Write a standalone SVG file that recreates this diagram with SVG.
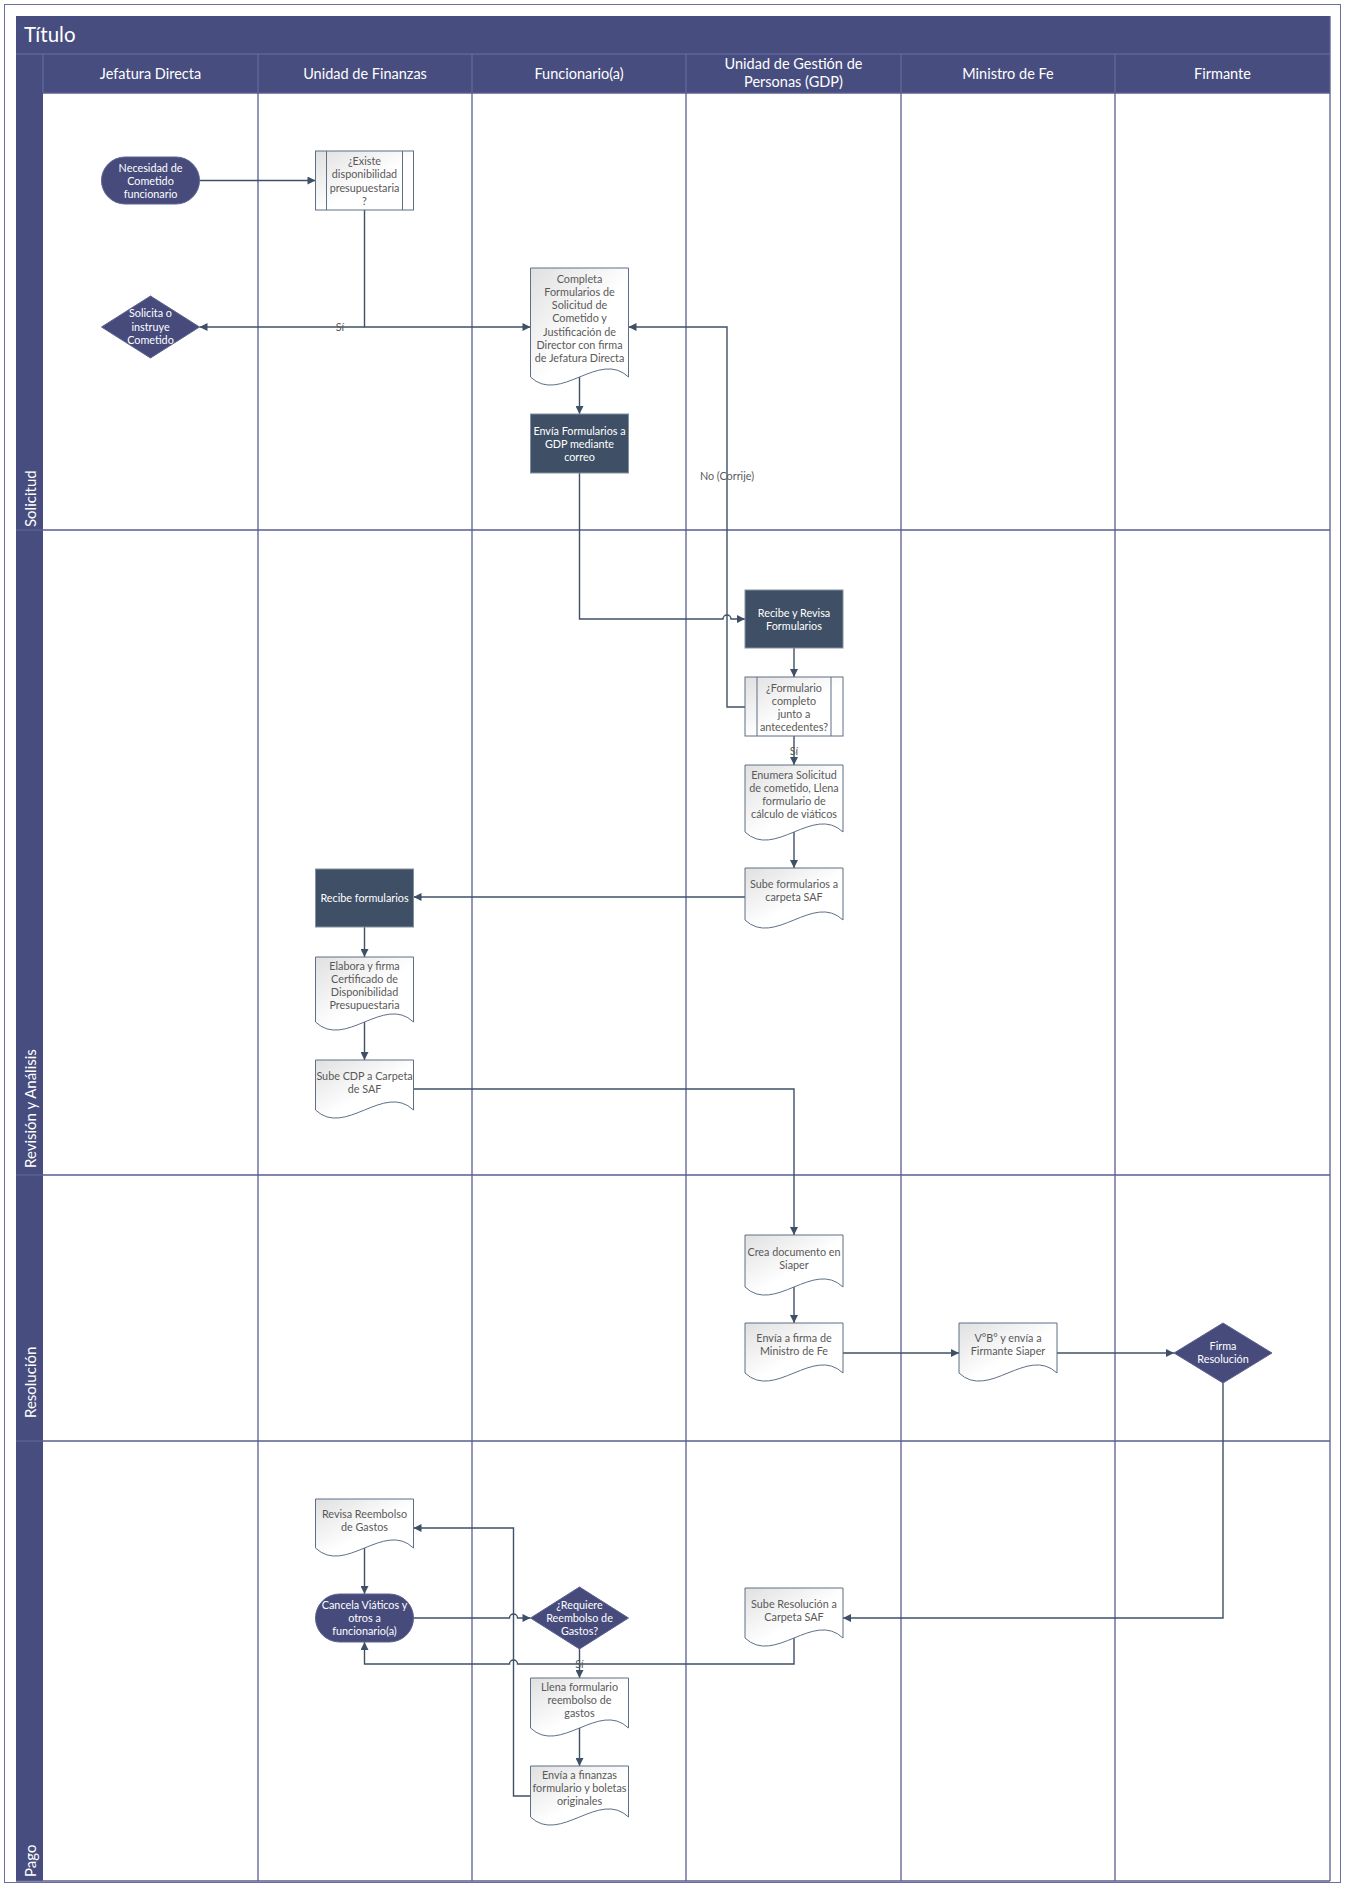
<svg xmlns="http://www.w3.org/2000/svg" width="1346" height="1887" viewBox="0 0 1346 1887">
<defs>
<style>
.lane{stroke:#5A5E90;stroke-width:1.3;fill:none}
.hsep{stroke:#6A70A4;stroke-width:1;fill:none}
.hdr{fill:#474D7E}
.hl{fill:#fff;font-family:Lato,"Liberation Sans",sans-serif;font-size:14.5px;text-anchor:middle}
.ll{fill:#fff;font-family:Lato,"Liberation Sans",sans-serif;font-size:15px}
.doc{fill:url(#g);stroke:#5F6F86;stroke-width:1}
.dark{fill:#3F5066;stroke:#8190A2;stroke-width:1}
.term{fill:#464B7C;stroke:#5E6290;stroke-width:1}
.sub{stroke:#5F6F86;stroke-width:1}
.t{font-family:Lato,"Liberation Sans",sans-serif;font-size:10.8px;fill:#595959;text-anchor:middle}
.tw{font-family:Lato,"Liberation Sans",sans-serif;font-size:10.8px;fill:#ffffff;text-anchor:middle}
.c{fill:none;stroke:#3F5066;stroke-width:1.4;marker-end:url(#a)}
</style>
<linearGradient id="g" x1="0" y1="0" x2="1" y2="1">
<stop offset="0" stop-color="#E0E0E0"/>
<stop offset="0.55" stop-color="#FFFFFF"/>
<stop offset="1" stop-color="#FFFFFF"/>
</linearGradient>
<marker id="a" viewBox="0 0 10 10" refX="10" refY="5" markerWidth="9" markerHeight="8" markerUnits="userSpaceOnUse" orient="auto">
<path d="M0,0 L10,5 L0,10 Z" fill="#3F5066"/>
</marker>
</defs>

<g id="frame">
<rect x="4.5" y="4.5" width="1336" height="1878" fill="#ffffff" stroke="#6B6F9A" stroke-width="1"/>
<rect x="16" y="16" width="1314" height="38" class="hdr"/>
<text x="24" y="42" fill="#fff" font-family="Lato,'Liberation Sans',sans-serif" font-size="20.5px">Título</text>
<rect x="16" y="54" width="1314" height="39" class="hdr"/>
<line x1="16" y1="54" x2="1330" y2="54" class="hsep"/>
<rect x="16" y="93" width="27" height="1788" class="hdr"/>
<line x1="43" y1="54" x2="43" y2="93" class="hsep"/>
<line x1="258" y1="54" x2="258" y2="93" class="hsep"/>
<line x1="472" y1="54" x2="472" y2="93" class="hsep"/>
<line x1="686" y1="54" x2="686" y2="93" class="hsep"/>
<line x1="901" y1="54" x2="901" y2="93" class="hsep"/>
<line x1="1115" y1="54" x2="1115" y2="93" class="hsep"/>
<text x="150.5" y="78.5" class="hl">Jefatura Directa</text>
<text x="365" y="78.5" class="hl">Unidad de Finanzas</text>
<text x="579" y="78.5" class="hl">Funcionario(a)</text>
<text x="793.5" y="68.5" class="hl">Unidad de Gestión de</text>
<text x="793.5" y="86.5" class="hl">Personas (GDP)</text>
<text x="1008" y="78.5" class="hl">Ministro de Fe</text>
<text x="1222.5" y="78.5" class="hl">Firmante</text>
<line x1="258" y1="93" x2="258" y2="1881" class="lane"/>
<line x1="472" y1="93" x2="472" y2="1881" class="lane"/>
<line x1="686" y1="93" x2="686" y2="1881" class="lane"/>
<line x1="901" y1="93" x2="901" y2="1881" class="lane"/>
<line x1="1115" y1="93" x2="1115" y2="1881" class="lane"/>
<line x1="1330" y1="16" x2="1330" y2="1881" class="lane"/>
<line x1="43" y1="93" x2="1330" y2="93" class="lane"/>
<line x1="16" y1="530" x2="1330" y2="530" class="lane"/>
<line x1="16" y1="1175" x2="1330" y2="1175" class="lane"/>
<line x1="16" y1="1441" x2="1330" y2="1441" class="lane"/>
<line x1="16" y1="1881" x2="1330" y2="1881" class="lane"/>
<text class="ll" transform="translate(35.5,527) rotate(-90)">Solicitud</text>
<text class="ll" transform="translate(35.5,1168) rotate(-90)">Revisión y Análisis</text>
<text class="ll" transform="translate(35.5,1418) rotate(-90)">Resolución</text>
<text class="ll" transform="translate(35.5,1877) rotate(-90)">Pago</text>
</g>

<g id="connectors">
<path class="c" d="M199.5,180.5 H315.5"/>
<path class="c" d="M364.5,210 V327 H530.5"/>
<path class="c" d="M364.5,327 H199.5"/>
<path class="c" d="M579.5,377 V414"/>
<path class="c" d="M579.5,473 V619 H723 A4,4 0 0 1 731,619 H745"/>
<path class="c" d="M745,707 H727 V327 H628.5"/>
<path class="c" d="M794,648 V677"/>
<path class="c" d="M794,736 V765"/>
<path class="c" d="M794,832 V868"/>
<path class="c" d="M745,897 H413.5"/>
<path class="c" d="M364.5,927 V957"/>
<path class="c" d="M364.5,1022 V1060"/>
<path class="c" d="M413.5,1089 H794 V1235"/>
<path class="c" d="M794,1287 V1323"/>
<path class="c" d="M843,1353 H959"/>
<path class="c" d="M1057,1353 H1174"/>
<path class="c" d="M1223,1383 V1618 H843"/>
<path class="c" d="M794,1638 V1664 H517.5 A4,4 0 0 0 509.5,1664 H364.5 V1642"/>
<path class="c" d="M364.5,1548 V1594"/>
<path class="c" d="M413.5,1618 H509.5 A4,4 0 0 1 517.5,1618 H530.5"/>
<path class="c" d="M579.5,1649 V1678"/>
<path class="c" d="M579.5,1728 V1766"/>
<path class="c" d="M530.5,1796 H513.5 V1528 H413.5"/>
<text x="340" y="331" class="t">Sí</text>
<text x="727" y="480" class="t">No (Corrije)</text>
<text x="794" y="755" class="t">Sí</text>
<text x="579.5" y="1668" class="t">Sí</text>
</g>

<g id="n-necesidad">
<rect x="101.5" y="157" width="98" height="47" rx="23.5" class="term"/>
<text class="tw"><tspan x="150.5" y="171.5">Necesidad de</tspan><tspan x="150.5" y="184.5">Cometido</tspan><tspan x="150.5" y="197.5">funcionario</tspan></text>
</g>
<g id="n-existe">
<rect x="315.5" y="151" width="98" height="59" class="sub" fill="url(#g)"/>
<line x1="326.5" y1="151" x2="326.5" y2="210" class="sub"/>
<line x1="402.5" y1="151" x2="402.5" y2="210" class="sub"/>
<text class="t"><tspan x="364.5" y="164.5">¿Existe</tspan><tspan x="364.5" y="177.5">disponibilidad</tspan><tspan x="364.5" y="191.5">presupuestaria</tspan><tspan x="364.5" y="204.5">?</tspan></text>
</g>
<g id="n-solicita">
<polygon points="101.5,327 150.5,296 199.5,327 150.5,358" class="term"/>
<text class="tw"><tspan x="150.5" y="316.5">Solicita o</tspan><tspan x="150.5" y="330.5">instruye</tspan><tspan x="150.5" y="343.5">Cometido</tspan></text>
</g>
<g id="n-completa">
<path d="M530.5,268 H628.5 V377 C599.1,349 559.9,405 530.5,377 Z" class="doc"/>
<text class="t"><tspan x="579.5" y="282.5">Completa</tspan><tspan x="579.5" y="295.5">Formularios de</tspan><tspan x="579.5" y="308.5">Solicitud de</tspan><tspan x="579.5" y="321.5">Cometido y</tspan><tspan x="579.5" y="335.5">Justificación de</tspan><tspan x="579.5" y="348.5">Director con firma</tspan><tspan x="579.5" y="361.5">de Jefatura Directa</tspan></text>
</g>
<g id="n-envia-gdp">
<rect x="530.5" y="414" width="98" height="59" class="dark"/>
<text class="tw"><tspan x="579.5" y="434.5">Envía Formularios a</tspan><tspan x="579.5" y="447.5">GDP mediante</tspan><tspan x="579.5" y="460.5">correo</tspan></text>
</g>
<g id="n-recibe-revisa">
<rect x="745" y="590" width="98" height="58" class="dark"/>
<text class="tw"><tspan x="794" y="616.5">Recibe y Revisa</tspan><tspan x="794" y="629.5">Formularios</tspan></text>
</g>
<g id="n-formulario-completo">
<rect x="745" y="677" width="98" height="59" class="sub" fill="url(#g)"/>
<line x1="757" y1="677" x2="757" y2="736" class="sub"/>
<line x1="831" y1="677" x2="831" y2="736" class="sub"/>
<text class="t"><tspan x="794" y="691.5">¿Formulario</tspan><tspan x="794" y="704.5">completo</tspan><tspan x="794" y="717.5">junto a</tspan><tspan x="794" y="730.5">antecedentes?</tspan></text>
</g>
<g id="n-enumera">
<path d="M745,765 H843 V832 C813.6,804 774.4,860 745,832 Z" class="doc"/>
<text class="t"><tspan x="794" y="778.5">Enumera Solicitud</tspan><tspan x="794" y="791.5">de cometido, Llena</tspan><tspan x="794" y="804.5">formulario de</tspan><tspan x="794" y="817.5">cálculo de viáticos</tspan></text>
</g>
<g id="n-sube-formularios">
<path d="M745,868 H843 V920 C813.6,892 774.4,948 745,920 Z" class="doc"/>
<text class="t"><tspan x="794" y="887.5">Sube formularios a</tspan><tspan x="794" y="900.5">carpeta SAF</tspan></text>
</g>
<g id="n-recibe-formularios">
<rect x="315.5" y="869" width="98" height="58" class="dark"/>
<text class="tw"><tspan x="364.5" y="901.5">Recibe formularios</tspan></text>
</g>
<g id="n-elabora">
<path d="M315.5,957 H413.5 V1022 C384.1,994 344.9,1050 315.5,1022 Z" class="doc"/>
<text class="t"><tspan x="364.5" y="969.5">Elabora y firma</tspan><tspan x="364.5" y="982.5">Certificado de</tspan><tspan x="364.5" y="995.5">Disponibilidad</tspan><tspan x="364.5" y="1008.5">Presupuestaria</tspan></text>
</g>
<g id="n-sube-cdp">
<path d="M315.5,1060 H413.5 V1110 C384.1,1082 344.9,1138 315.5,1110 Z" class="doc"/>
<text class="t"><tspan x="364.5" y="1079.5">Sube CDP a Carpeta</tspan><tspan x="364.5" y="1092.5">de SAF</tspan></text>
</g>
<g id="n-crea">
<path d="M745,1235 H843 V1287 C813.6,1259 774.4,1315 745,1287 Z" class="doc"/>
<text class="t"><tspan x="794" y="1255.5">Crea documento en</tspan><tspan x="794" y="1268.5">Siaper</tspan></text>
</g>
<g id="n-envia-firma">
<path d="M745,1323 H843 V1373 C813.6,1345 774.4,1401 745,1373 Z" class="doc"/>
<text class="t"><tspan x="794" y="1341.5">Envía a firma de</tspan><tspan x="794" y="1354.5">Ministro de Fe</tspan></text>
</g>
<g id="n-vobo">
<path d="M959,1323 H1057 V1373 C1027.6,1345 988.4,1401 959,1373 Z" class="doc"/>
<text class="t"><tspan x="1008" y="1341.5">V°B° y envía a</tspan><tspan x="1008" y="1354.5">Firmante Siaper</tspan></text>
</g>
<g id="n-firma">
<polygon points="1174,1353 1223,1323 1272,1353 1223,1383" class="term"/>
<text class="tw"><tspan x="1223" y="1349.5">Firma</tspan><tspan x="1223" y="1362.5">Resolución</tspan></text>
</g>
<g id="n-revisa">
<path d="M315.5,1499 H413.5 V1548 C384.1,1520 344.9,1576 315.5,1548 Z" class="doc"/>
<text class="t"><tspan x="364.5" y="1517.5">Revisa Reembolso</tspan><tspan x="364.5" y="1530.5">de Gastos</tspan></text>
</g>
<g id="n-cancela">
<rect x="315.5" y="1594" width="98" height="48" rx="24" class="term"/>
<text class="tw"><tspan x="364.5" y="1608.5">Cancela Viáticos y</tspan><tspan x="364.5" y="1621.5">otros a</tspan><tspan x="364.5" y="1634.5">funcionario(a)</tspan></text>
</g>
<g id="n-requiere">
<polygon points="530.5,1618 579.5,1587 628.5,1618 579.5,1649" class="term"/>
<text class="tw"><tspan x="579.5" y="1608.5">¿Requiere</tspan><tspan x="579.5" y="1621.5">Reembolso de</tspan><tspan x="579.5" y="1634.5">Gastos?</tspan></text>
</g>
<g id="n-llena">
<path d="M530.5,1678 H628.5 V1728 C599.1,1700 559.9,1756 530.5,1728 Z" class="doc"/>
<text class="t"><tspan x="579.5" y="1690.5">Llena formulario</tspan><tspan x="579.5" y="1703.5">reembolso de</tspan><tspan x="579.5" y="1716.5">gastos</tspan></text>
</g>
<g id="n-envia-finanzas">
<path d="M530.5,1766 H628.5 V1817 C599.1,1789 559.9,1845 530.5,1817 Z" class="doc"/>
<text class="t"><tspan x="579.5" y="1778.5">Envía a finanzas</tspan><tspan x="579.5" y="1791.5">formulario y boletas</tspan><tspan x="579.5" y="1804.5">originales</tspan></text>
</g>
<g id="n-sube-resolucion">
<path d="M745,1588 H843 V1638 C813.6,1610 774.4,1666 745,1638 Z" class="doc"/>
<text class="t"><tspan x="794" y="1607.5">Sube Resolución a</tspan><tspan x="794" y="1620.5">Carpeta SAF</tspan></text>
</g>
</svg>
